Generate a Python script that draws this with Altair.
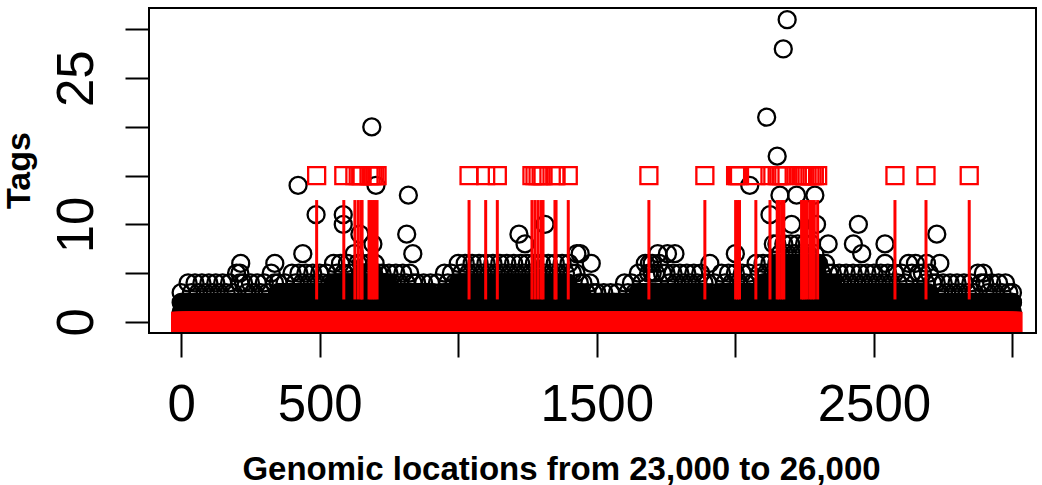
import altair as alt
import pandas as pd

# ---- data ----
# solid core of the dense cloud: max tag count per 50-bp bin, 0..3000
env_heights = [2, 2, 2, 2, 2, 2, 2, 3, 3, 3,
               3, 4, 4, 5, 4,
               3, 3, 3, 2, 3,
               4, 4, 4, 4,
               4, 4, 4, 4, 3,
               2, 2, 2, 2,
               3, 3, 3,
               3, 3, 2, 3,
               3, 3, 4,
               6, 6, 6,
               4,
               3, 3, 3,
               3, 3, 3, 3,
               2, 2, 2,
               2, 2, 2]
env_bin = 50
env_step = 5

# ragged upper rim of the cloud: top tag count per 25-bp step, 0..3000
rim_heights = [3, 4, 4, 4, 4, 4, 4, 4, 5, 4, 4, 4, 4, 5, 4, 4, 5, 5, 5, 5,
               5, 5, 6, 6, 6, 7, 6, 6, 6, 5,
               5, 5, 5, 5, 4, 4, 4, 4, 5, 5,
               6, 6, 6, 6, 6, 6, 6, 6,
               6, 6, 6, 6, 6, 6, 6, 6, 6, 5,
               4, 4, 3, 3, 3, 3, 4, 4,
               5, 6, 6, 6, 5, 5,
               5, 5, 5, 5, 4, 4, 5, 5,
               5, 5, 5, 6, 6, 6,
               8, 8, 8, 8, 8, 8,
               6, 6,
               5, 5, 5, 5, 5, 5,
               5, 5, 5, 5, 5, 6, 6, 5,
               5, 4, 4, 4, 4, 4,
               4, 5, 4, 4, 4, 4,
               3]
rim_step = 25

# sparse high-count positions (location, tags)
out_x = [212, 215, 338, 422, 439, 487, 585, 585, 645, 688, 692, 703, 814, 820, 836,
         1219, 1241, 1313, 1428, 1440, 1480, 1690, 1700, 1720, 1755, 1782, 1908, 2000,
         2052, 2113, 2125, 2137, 2151, 2161, 2173, 2187, 2203, 2221, 2287, 2293, 2335,
         2426, 2444, 2456, 2540, 2540, 2690, 2727, 2738, 2895]
out_y = [5, 6, 6, 14, 7, 11, 11, 10, 9, 20, 8, 14, 9, 13, 7,
         9, 8, 10, 7, 7, 6, 6, 5, 7, 7, 7, 6, 7,
         14, 21, 11, 8, 17, 13, 28, 31, 10, 13, 13, 10, 8,
         8, 10, 7, 8, 6, 6, 9, 6, 5]

# marked sites (red)
site_x = [489, 587, 627, 639, 649, 653, 678, 685, 692, 699, 707,
          1039, 1099, 1141, 1266, 1277, 1288, 1299, 1306, 1349, 1353, 1397,
          1688, 1890, 2001, 2008, 2015, 2074, 2125, 2151, 2158, 2167, 2175,
          2239, 2245, 2251, 2259, 2269, 2277, 2285, 2297, 2576, 2688, 2844]
site_top = 15
seg_low = 2.3
seg_high = 12.5

x_ticks = [0, 500, 1000, 1500, 2000, 2500, 3000]
x_labels = [0, 500, 1500, 2500]
y_ticks = [0, 5, 10, 15, 20, 25, 30]
y_labels = [0, 10, 25]

# ---- build tables ----
rows = []
for i, h in enumerate(env_heights):
    for k in range(env_bin // env_step):
        xv = i * env_bin + k * env_step
        for lvl in range(h + 1):
            rows.append({"loc": xv, "tags": lvl})
for lvl in range(env_heights[-1] + 1):
    rows.append({"loc": len(env_heights) * env_bin, "tags": lvl})
for i, h in enumerate(rim_heights):
    xv = i * rim_step
    rows.append({"loc": xv, "tags": h})
    rows.append({"loc": min(xv + 12, 3000), "tags": max(h - 1, 0)})
mass = pd.DataFrame(rows)
outl = pd.DataFrame({"loc": out_x, "tags": out_y})
black = pd.concat([mass, outl], ignore_index=True)

base_locs = sorted(set(i * env_step for i in range(3000 // env_step + 1)))
band = pd.DataFrame({"loc": base_locs, "tags": [0] * len(base_locs)})
sites = pd.DataFrame({"loc": site_x, "top": [site_top] * len(site_x),
                      "lo": [seg_low] * len(site_x), "hi": [seg_high] * len(site_x)})

xs = alt.Scale(domain=[-116, 3085], nice=False, zero=False)
ys = alt.Scale(domain=[-1.14, 32.2], nice=False, zero=False)

x_axis = alt.Axis(
    values=x_ticks, tickSize=24, tickWidth=2, tickColor="black", domain=False, grid=False,
    labelFont="Liberation Sans", labelFontSize=51, labelColor="black",
    labelExpr="indexof(" + str(x_labels) + ", datum.value) >= 0 ? datum.label : ''",
    labelOverlap=False, labelBaseline="alphabetic", labelPadding=63, labelAlign="center",
    format="d",
    title="Genomic locations from 23,000 to 26,000", titleFont="Liberation Sans",
    titleFontWeight="bold", titleFontSize=33, titleColor="black",
    titleX=412, titleY=146, titleBaseline="alphabetic", titleAlign="center",
)
y_axis = alt.Axis(
    values=y_ticks, tickSize=24, tickWidth=2, tickColor="black", domain=False, grid=False,
    labelFont="Liberation Sans", labelFontSize=51, labelColor="black",
    labelExpr="indexof(" + str(y_labels) + ", datum.value) >= 0 ? datum.label : ''",
    labelOverlap=False, labelAngle=270, labelAlign="center", labelBaseline="alphabetic",
    labelPadding=33, format="d",
    title="Tags", titleFont="Liberation Sans", titleFontWeight="bold", titleFontSize=34,
    titleColor="black", titleAngle=270, titleX=-120, titleY=162,
    titleBaseline="alphabetic", titleAlign="center",
)

circles = alt.Chart(black).mark_point(
    shape="circle", filled=False, stroke="black", strokeWidth=2.3, size=289, opacity=1
).encode(
    x=alt.X("loc:Q", scale=xs, axis=x_axis),
    y=alt.Y("tags:Q", scale=ys, axis=y_axis),
)

band_marks = alt.Chart(band).mark_point(
    shape="square", filled=False, stroke="#ff0000", strokeWidth=2.3, size=324, opacity=1
).encode(x=alt.X("loc:Q", scale=xs), y=alt.Y("tags:Q", scale=ys))

segs = alt.Chart(sites).mark_rule(color="#ff0000", strokeWidth=3).encode(
    x=alt.X("loc:Q", scale=xs), y=alt.Y("lo:Q", scale=ys), y2="hi:Q"
)

tops = alt.Chart(sites).mark_point(
    shape="square", filled=False, stroke="#ff0000", strokeWidth=2.3, size=289, opacity=1
).encode(x=alt.X("loc:Q", scale=xs), y=alt.Y("top:Q", scale=ys))

chart = alt.layer(circles, band_marks, segs, tops).properties(
    width=887, height=325,
    autosize=alt.AutoSizeParams(type="none"),
    padding={"left": 149, "top": 8, "right": 6, "bottom": 152},
    background="white",
).configure_view(stroke="black", strokeWidth=2)

chart.save("out.html", embed_options={"renderer": "svg", "actions": False})
